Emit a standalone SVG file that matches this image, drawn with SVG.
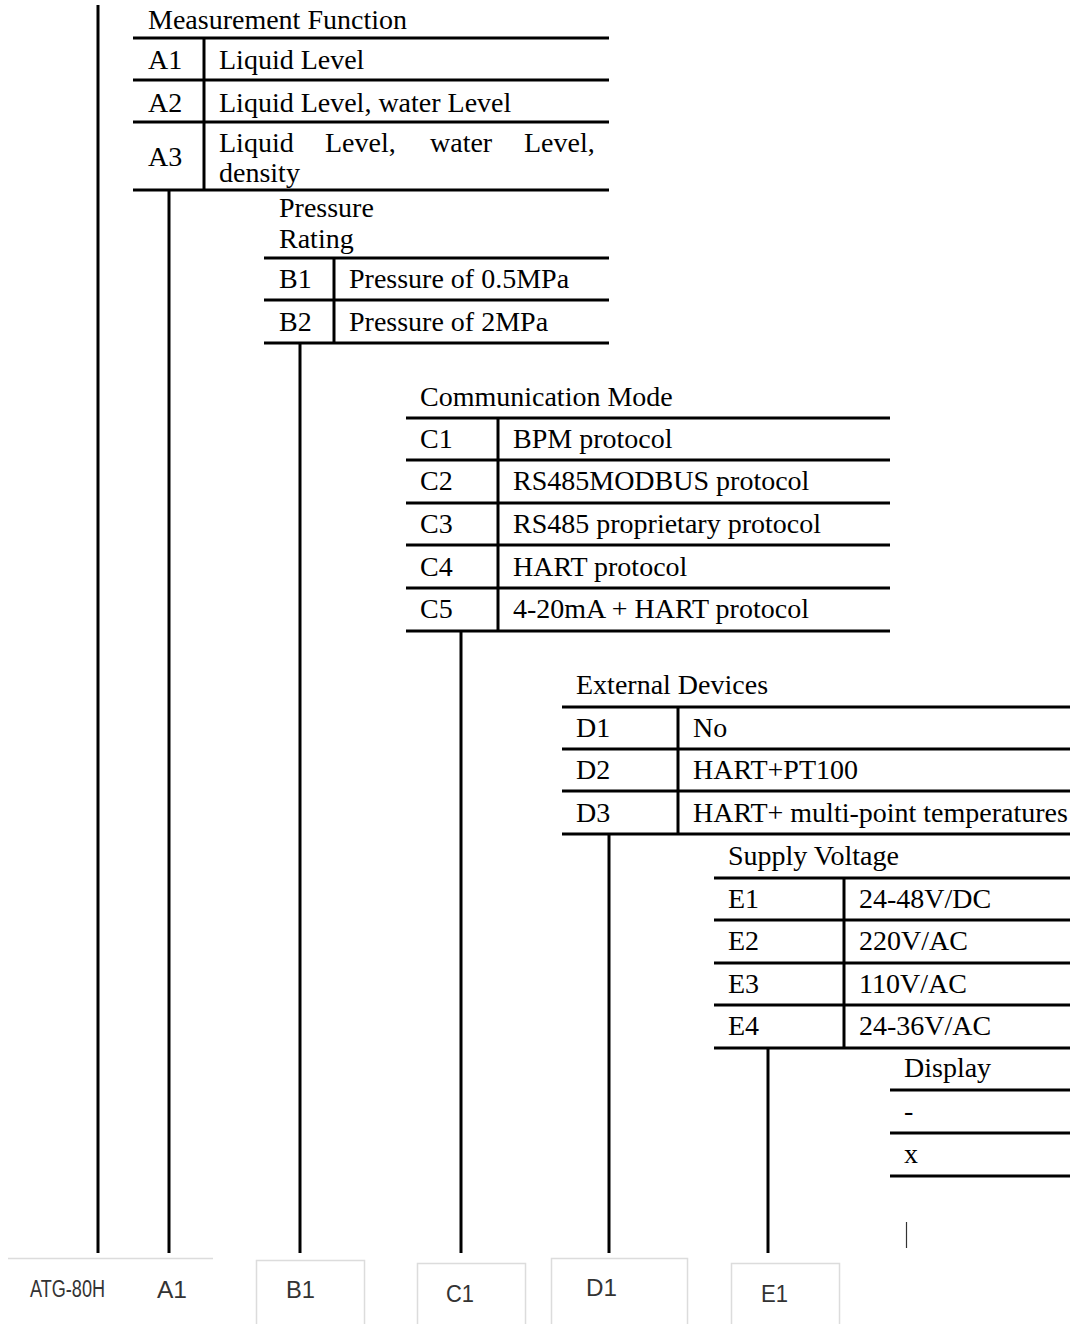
<svg xmlns="http://www.w3.org/2000/svg" width="1070" height="1324" viewBox="0 0 1070 1324">
<style>
.t{font-family:"Liberation Serif","Times New Roman",serif;font-size:28px;fill:#000}
.h{stroke:#000;stroke-width:3;fill:none}
.v{stroke:#000;stroke-width:3;fill:none}
.c{stroke:#000;stroke-width:3;fill:none}
.b{stroke:#dcdcdc;stroke-width:1.5;fill:#fff}
.s{font-family:"Liberation Sans",Arial,sans-serif;font-size:23px;fill:#333}
</style>
<rect width="1070" height="1324" fill="#fff"/>
<g id="connectors">
<line class="c" x1="98" y1="5" x2="98" y2="1253"/>
<line class="c" x1="169" y1="190" x2="169" y2="1253"/>
<line class="c" x1="300" y1="343" x2="300" y2="1253"/>
<line class="c" x1="461" y1="631" x2="461" y2="1253"/>
<line class="c" x1="609" y1="834" x2="609" y2="1253"/>
<line class="c" x1="768" y1="1048" x2="768" y2="1253"/>
</g>
<g id="tableA">
<text class="t" x="148" y="29">Measurement Function</text>
<line class="h" x1="133" y1="38" x2="609" y2="38"/>
<line class="h" x1="133" y1="80" x2="609" y2="80"/>
<line class="h" x1="133" y1="122" x2="609" y2="122"/>
<line class="h" x1="133" y1="190" x2="609" y2="190"/>
<line class="v" x1="204" y1="38" x2="204" y2="190"/>
<text class="t" x="148" y="69">A1</text>
<text class="t" x="219" y="69">Liquid Level</text>
<text class="t" x="148" y="112">A2</text>
<text class="t" x="219" y="112">Liquid Level, water Level</text>
<text class="t" x="148" y="166">A3</text>
<text class="t" y="152"><tspan x="219">Liquid</tspan><tspan x="325">Level,</tspan><tspan x="430">water</tspan><tspan x="524">Level,</tspan></text>
<text class="t" x="219" y="182">density</text>
</g>
<g id="tableB">
<text class="t" x="279" y="217">Pressure</text>
<text class="t" x="279" y="248">Rating</text>
<line class="h" x1="264" y1="258" x2="609" y2="258"/>
<line class="h" x1="264" y1="300" x2="609" y2="300"/>
<line class="h" x1="264" y1="343" x2="609" y2="343"/>
<line class="v" x1="334" y1="258" x2="334" y2="343"/>
<text class="t" x="279" y="288">B1</text>
<text class="t" x="349" y="288">Pressure of 0.5MPa</text>
<text class="t" x="279" y="331">B2</text>
<text class="t" x="349" y="331">Pressure of 2MPa</text>
</g>
<g id="tableC">
<text class="t" x="420" y="406">Communication Mode</text>
<line class="h" x1="406" y1="418" x2="890" y2="418"/>
<line class="h" x1="406" y1="460" x2="890" y2="460"/>
<line class="h" x1="406" y1="503" x2="890" y2="503"/>
<line class="h" x1="406" y1="545" x2="890" y2="545"/>
<line class="h" x1="406" y1="588" x2="890" y2="588"/>
<line class="h" x1="406" y1="631" x2="890" y2="631"/>
<line class="v" x1="498" y1="418" x2="498" y2="631"/>
<text class="t" x="420" y="448">C1</text>
<text class="t" x="513" y="448">BPM protocol</text>
<text class="t" x="420" y="490">C2</text>
<text class="t" x="513" y="490">RS485MODBUS protocol</text>
<text class="t" x="420" y="533">C3</text>
<text class="t" x="513" y="533">RS485 proprietary protocol</text>
<text class="t" x="420" y="576">C4</text>
<text class="t" x="513" y="576">HART protocol</text>
<text class="t" x="420" y="618">C5</text>
<text class="t" x="513" y="618">4-20mA + HART protocol</text>
</g>
<g id="tableD">
<text class="t" x="576" y="694">External Devices</text>
<line class="h" x1="562" y1="707" x2="1070" y2="707"/>
<line class="h" x1="562" y1="749" x2="1070" y2="749"/>
<line class="h" x1="562" y1="791" x2="1070" y2="791"/>
<line class="h" x1="562" y1="834" x2="1070" y2="834"/>
<line class="v" x1="678" y1="707" x2="678" y2="834"/>
<text class="t" x="576" y="737">D1</text>
<text class="t" x="693" y="737">No</text>
<text class="t" x="576" y="779">D2</text>
<text class="t" x="693" y="779">HART+PT100</text>
<text class="t" x="576" y="822">D3</text>
<text class="t" x="693" y="822">HART+ multi-point temperatures</text>
</g>
<g id="tableE">
<text class="t" x="728" y="865">Supply Voltage</text>
<line class="h" x1="714" y1="878" x2="1070" y2="878"/>
<line class="h" x1="714" y1="920" x2="1070" y2="920"/>
<line class="h" x1="714" y1="963" x2="1070" y2="963"/>
<line class="h" x1="714" y1="1005" x2="1070" y2="1005"/>
<line class="h" x1="714" y1="1048" x2="1070" y2="1048"/>
<line class="v" x1="844" y1="878" x2="844" y2="1048"/>
<text class="t" x="728" y="908">E1</text>
<text class="t" x="859" y="908">24-48V/DC</text>
<text class="t" x="728" y="950">E2</text>
<text class="t" x="859" y="950">220V/AC</text>
<text class="t" x="728" y="993">E3</text>
<text class="t" x="859" y="993">110V/AC</text>
<text class="t" x="728" y="1035">E4</text>
<text class="t" x="859" y="1035">24-36V/AC</text>
</g>
<g id="tableDisplay">
<text class="t" x="904" y="1077">Display</text>
<line class="h" x1="890" y1="1090" x2="1070" y2="1090"/>
<line class="h" x1="890" y1="1133" x2="1070" y2="1133"/>
<line class="h" x1="890" y1="1176" x2="1070" y2="1176"/>
<text class="t" x="904" y="1120">-</text>
<text class="t" x="904" y="1163">x</text>
<line x1="906.5" y1="1222" x2="906.5" y2="1248" stroke="#333" stroke-width="1.2"/>
</g>
<g id="code">
<line x1="8" y1="1258.5" x2="213" y2="1258.5" stroke="#dcdcdc" stroke-width="1.5"/>
<text class="s" x="30" y="1297" textLength="75" lengthAdjust="spacingAndGlyphs">ATG-80H</text>
<text class="s" x="157" y="1298" textLength="30" lengthAdjust="spacingAndGlyphs">A1</text>
<rect class="b" x="256.5" y="1260.5" width="108" height="80"/>
<text class="s" x="286" y="1298" textLength="29" lengthAdjust="spacingAndGlyphs">B1</text>
<rect class="b" x="417.5" y="1263.5" width="108" height="80"/>
<text class="s" x="446" y="1302" textLength="28" lengthAdjust="spacingAndGlyphs">C1</text>
<rect class="b" x="551.5" y="1258.5" width="136" height="80"/>
<text class="s" x="586" y="1296" textLength="31" lengthAdjust="spacingAndGlyphs">D1</text>
<rect class="b" x="731.5" y="1263.5" width="108" height="80"/>
<text class="s" x="761" y="1302" textLength="27" lengthAdjust="spacingAndGlyphs">E1</text>
</g>
</svg>
